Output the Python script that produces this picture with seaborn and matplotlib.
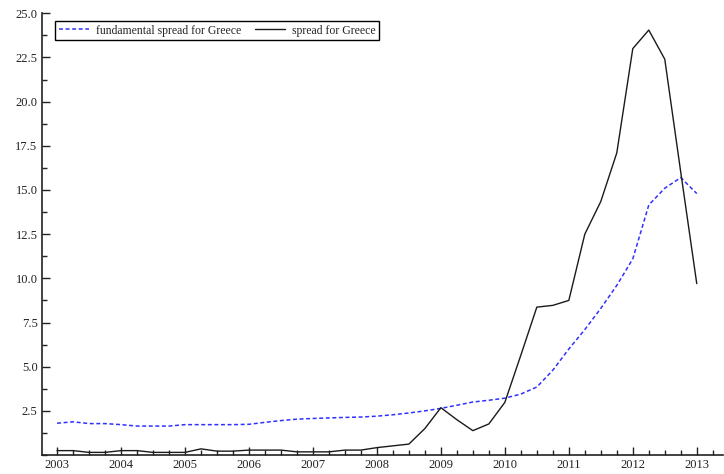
import numpy as np
import pandas as pd
import matplotlib
matplotlib.use("Agg")
import matplotlib.pyplot as plt
from matplotlib.ticker import MultipleLocator, FormatStrFormatter
import seaborn as sns

# Quarterly observations, 2003Q1 - 2013Q1
quarters = [2003 + q / 4 for q in range(41)]

fundamental_spread = [
    1.80, 1.88, 1.78, 1.78, 1.72, 1.64, 1.64, 1.64,
    1.72, 1.72, 1.72, 1.72, 1.74, 1.85, 1.95, 2.03,
    2.07, 2.10, 2.13, 2.15, 2.20, 2.28, 2.38, 2.50,
    2.64, 2.82, 3.00, 3.10, 3.22, 3.45, 3.85, 4.80,
    6.00, 7.10, 8.30, 9.60, 11.10, 14.15, 15.10, 15.70,
    14.80,
]

spread = [
    0.25, 0.25, 0.15, 0.15, 0.25, 0.25, 0.15, 0.15,
    0.15, 0.35, 0.22, 0.22, 0.28, 0.28, 0.28, 0.18,
    0.18, 0.18, 0.28, 0.28, 0.42, 0.52, 0.62, 1.50,
    2.68, 2.00, 1.38, 1.76, 2.98, 5.65, 8.37, 8.47,
    8.75, 12.50, 14.35, 17.10, 23.00, 24.05, 22.40, 16.00,
    9.70,
]

series_labels = ["fundamental spread for Greece", "spread for Greece"]

df = pd.DataFrame({
    "date": quarters,
    series_labels[0]: fundamental_spread,
    series_labels[1]: spread,
})

sns.set_style("ticks")
plt.rcParams["font.family"] = ["Liberation Serif", "DejaVu Serif"]

fig = plt.figure(figsize=(7.24, 4.74), dpi=100)
ax = fig.add_axes([0.0576, 0.040, 0.941, 0.932])

sns.lineplot(data=df, x="date", y=series_labels[0], ax=ax,
             color="#3030ff", linewidth=1.1,
             linestyle=(0, (2.6, 1.7)), label=series_labels[0])
sns.lineplot(data=df, x="date", y=series_labels[1], ax=ax,
             color="#1a1a1a", linewidth=1.0, label=series_labels[1])

ax.set_xlim(2002.76, 2013.41)
ax.set_ylim(0, 25)
ax.set_xlabel("")
ax.set_ylabel("")

ax.xaxis.set_major_locator(MultipleLocator(1))
ax.xaxis.set_minor_locator(MultipleLocator(0.25))
ax.xaxis.set_major_formatter(FormatStrFormatter("%d"))
ax.set_yticks(np.arange(2.5, 25.01, 2.5))
ax.yaxis.set_minor_locator(MultipleLocator(1.25))
ax.yaxis.set_major_formatter(FormatStrFormatter("%.1f"))

ax.tick_params(which="major", direction="in", length=6, width=1.0,
               labelsize=9, colors="#222222", pad=3)
ax.tick_params(which="minor", direction="in", length=3.5, width=1.0,
               colors="#222222")

for side in ("top", "right"):
    ax.spines[side].set_visible(False)
for side in ("left", "bottom"):
    ax.spines[side].set_linewidth(1.2)
    ax.spines[side].set_color("#222222")

leg = ax.legend(loc="upper left", bbox_to_anchor=(0.0195, 0.9826),
                borderaxespad=0, ncol=2, fontsize=8.5, frameon=True,
                fancybox=False, handlelength=2.6, handletextpad=0.6,
                columnspacing=1.1, borderpad=0.3)
frame = leg.get_frame()
frame.set_edgecolor("black")
frame.set_linewidth(1.0)
frame.set_alpha(1)

fig.savefig("out.png", dpi=100)
